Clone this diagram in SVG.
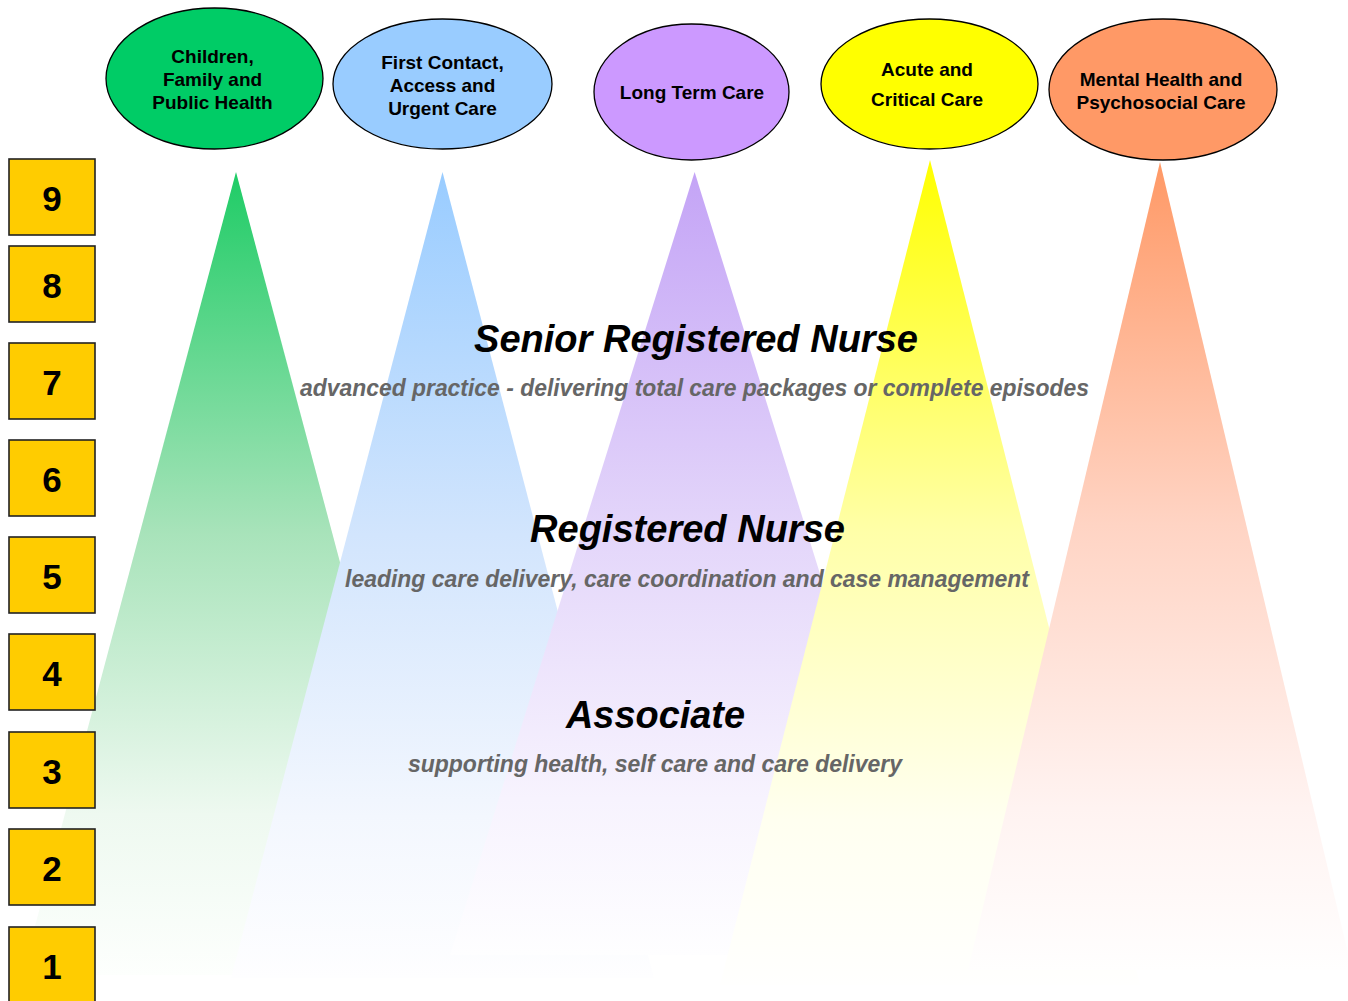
<svg xmlns="http://www.w3.org/2000/svg" width="1348" height="1001" viewBox="0 0 1348 1001">
  <style>
    .oval { stroke: #000; stroke-width: 1.3; }
    .oval-label { font-family: "Liberation Sans", Arial, sans-serif; font-weight: bold; font-size: 19px; fill: #000; text-anchor: middle; }
    .band { stroke: #222; stroke-width: 1.6; fill: #ffcc00; }
    .band-label { font-family: "Liberation Sans", Arial, sans-serif; font-weight: bold; font-size: 35px; fill: #000; text-anchor: middle; }
    .role { font-family: "Liberation Sans", Arial, sans-serif; font-weight: bold; font-style: italic; font-size: 38px; fill: #000; text-anchor: middle; }
    .role-desc { font-family: "Liberation Sans", Arial, sans-serif; font-weight: bold; font-style: italic; font-size: 23px; fill: #666; text-anchor: middle; }
  </style>
  <defs>
    <linearGradient id="fadeGreen" x1="0" y1="0" x2="0" y2="1">
      <stop offset="0" stop-color="#1fcc66"/>
      <stop offset="0.45" stop-color="#a8e3ba"/>
      <stop offset="0.8" stop-color="#eef9f0"/>
      <stop offset="1" stop-color="#fdfffd"/>
    </linearGradient>
    <linearGradient id="fadeBlue" x1="0" y1="0" x2="0" y2="1">
      <stop offset="0" stop-color="#99ccff"/>
      <stop offset="0.45" stop-color="#d2e5fd"/>
      <stop offset="0.8" stop-color="#f3f7fe"/>
      <stop offset="1" stop-color="#fefeff"/>
    </linearGradient>
    <linearGradient id="fadePurple" x1="0" y1="0" x2="0" y2="1">
      <stop offset="0" stop-color="#c4a4f6"/>
      <stop offset="0.45" stop-color="#e3d5fa"/>
      <stop offset="0.8" stop-color="#f7f3fe"/>
      <stop offset="1" stop-color="#fefeff"/>
    </linearGradient>
    <linearGradient id="fadeYellow" x1="0" y1="0" x2="0" y2="1">
      <stop offset="0" stop-color="#ffff00"/>
      <stop offset="0.45" stop-color="#ffffa8"/>
      <stop offset="0.8" stop-color="#fffff0"/>
      <stop offset="1" stop-color="#fffffe"/>
    </linearGradient>
    <linearGradient id="fadeOrange" x1="0" y1="0" x2="0" y2="1">
      <stop offset="0" stop-color="#ff9966"/>
      <stop offset="0.45" stop-color="#ffd4c4"/>
      <stop offset="0.8" stop-color="#fff3f1"/>
      <stop offset="1" stop-color="#fffefe"/>
    </linearGradient>
  </defs>

  <rect width="1348" height="1001" fill="#fff"/>

  <!-- fan beams widening from each speciality down through the bands -->
  <g id="beams">
    <polygon id="beam-children" points="236,172 450,975 22,975" fill="url(#fadeGreen)"/>
    <polygon id="beam-first-contact" points="442.5,172 654,978 231,978" fill="url(#fadeBlue)"/>
    <polygon id="beam-long-term" points="694.6,172 939,955 450,955" fill="url(#fadePurple)"/>
    <polygon id="beam-acute" points="930,160 1140,985 720,985" fill="url(#fadeYellow)"/>
    <polygon id="beam-mental-health" points="1160,162 1352,970 968,970" fill="url(#fadeOrange)"/>
  </g>

  <!-- career bands 1-9 -->
  <g id="band-9"><rect class="band" x="9" y="159" width="86" height="76"/><text class="band-label" x="52" y="211">9</text></g>
  <g id="band-8"><rect class="band" x="9" y="246" width="86" height="76"/><text class="band-label" x="52" y="298">8</text></g>
  <g id="band-7"><rect class="band" x="9" y="343" width="86" height="76"/><text class="band-label" x="52" y="395">7</text></g>
  <g id="band-6"><rect class="band" x="9" y="440" width="86" height="76"/><text class="band-label" x="52" y="492">6</text></g>
  <g id="band-5"><rect class="band" x="9" y="537" width="86" height="76"/><text class="band-label" x="52" y="589">5</text></g>
  <g id="band-4"><rect class="band" x="9" y="634" width="86" height="76"/><text class="band-label" x="52" y="686">4</text></g>
  <g id="band-3"><rect class="band" x="9" y="732" width="86" height="76"/><text class="band-label" x="52" y="784">3</text></g>
  <g id="band-2"><rect class="band" x="9" y="829" width="86" height="76"/><text class="band-label" x="52" y="881">2</text></g>
  <g id="band-1"><rect class="band" x="9" y="927" width="86" height="80"/><text class="band-label" x="52" y="979">1</text></g>

  <!-- speciality ovals -->
  <g id="node-children">
    <ellipse class="oval" cx="214.5" cy="78.5" rx="108.5" ry="70.5" fill="#00cc66"/>
    <text class="oval-label" x="212.5" y="63">Children,</text>
    <text class="oval-label" x="212.5" y="86">Family and</text>
    <text class="oval-label" x="212.5" y="109">Public Health</text>
  </g>
  <g id="node-first-contact">
    <ellipse class="oval" cx="442.5" cy="84" rx="109.5" ry="65" fill="#99ccff"/>
    <text class="oval-label" x="442.5" y="69">First Contact,</text>
    <text class="oval-label" x="442.5" y="92">Access and</text>
    <text class="oval-label" x="442.5" y="115">Urgent Care</text>
  </g>
  <g id="node-long-term">
    <ellipse class="oval" cx="691.5" cy="92" rx="97.5" ry="68" fill="#cc99ff"/>
    <text class="oval-label" x="692" y="99">Long Term Care</text>
  </g>
  <g id="node-acute">
    <ellipse class="oval" cx="929.5" cy="84" rx="108.5" ry="65" fill="#ffff00"/>
    <text class="oval-label" x="927" y="76">Acute and</text>
    <text class="oval-label" x="927" y="106">Critical Care</text>
  </g>
  <g id="node-mental-health">
    <ellipse class="oval" cx="1163" cy="89.5" rx="114" ry="70.5" fill="#ff9966"/>
    <text class="oval-label" x="1161" y="86">Mental Health and</text>
    <text class="oval-label" x="1161" y="109">Psychosocial Care</text>
  </g>

  <!-- role levels -->
  <g id="role-senior">
    <text class="role" x="696" y="352" textLength="444" lengthAdjust="spacingAndGlyphs">Senior Registered Nurse</text>
    <text class="role-desc" x="694.5" y="396" textLength="789" lengthAdjust="spacingAndGlyphs">advanced practice - delivering total care packages or complete episodes</text>
  </g>
  <g id="role-registered">
    <text class="role" x="687.5" y="542" textLength="315" lengthAdjust="spacingAndGlyphs">Registered Nurse</text>
    <text class="role-desc" x="687" y="587" textLength="684" lengthAdjust="spacingAndGlyphs">leading care delivery, care coordination and case management</text>
  </g>
  <g id="role-associate">
    <text class="role" x="655.5" y="728" textLength="179" lengthAdjust="spacingAndGlyphs">Associate</text>
    <text class="role-desc" x="655" y="772" textLength="494" lengthAdjust="spacingAndGlyphs">supporting health, self care and care delivery</text>
  </g>
</svg>
